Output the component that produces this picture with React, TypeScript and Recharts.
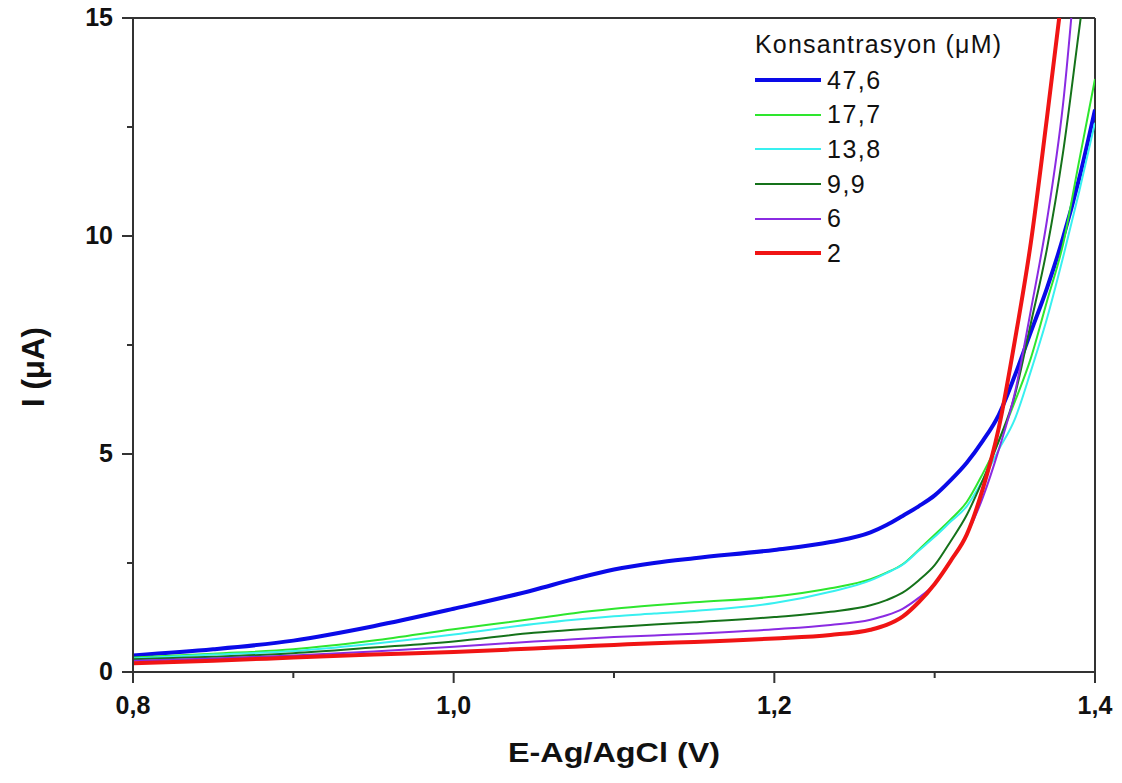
import React from "react";
import { LineChart, Line, XAxis, YAxis, ReferenceLine, Label } from "recharts";

// potential (V) sampling points
const potential = [
  0.8, 0.85, 0.9, 0.95, 1.0, 1.05, 1.075, 1.1, 1.125, 1.15, 1.2, 1.235, 1.26,
  1.27, 1.28, 1.29, 1.3, 1.31, 1.32, 1.33, 1.34, 1.35, 1.36, 1.37, 1.38, 1.39, 1.4,
];

// current (uA) for each concentration
const c47_6 = [0.38, 0.52, 0.72, 1.05, 1.45, 1.88, 2.13, 2.35, 2.5, 2.61, 2.8, 2.98, 3.2, 3.37, 3.58, 3.8, 4.05, 4.4, 4.8, 5.3, 5.9, 6.8, 7.8, 8.8, 9.95, 11.3, 12.9];
const c17_7 = [0.33, 0.42, 0.52, 0.72, 0.98, 1.22, 1.35, 1.45, 1.53, 1.6, 1.73, 1.92, 2.13, 2.28, 2.47, 2.8, 3.15, 3.5, 3.9, 4.55, 5.3, 6.2, 7.2, 8.5, 9.8, 11.7, 13.6];
const c13_8 = [0.31, 0.4, 0.48, 0.65, 0.86, 1.1, 1.2, 1.28, 1.34, 1.4, 1.58, 1.84, 2.1, 2.27, 2.46, 2.78, 3.1, 3.45, 3.8, 4.4, 5.1, 5.8, 6.9, 8.1, 9.5, 11.0, 12.6];
const c9_9 = [0.29, 0.35, 0.43, 0.56, 0.7, 0.9, 0.97, 1.03, 1.09, 1.14, 1.26, 1.38, 1.53, 1.65, 1.82, 2.1, 2.45, 3.0, 3.6, 4.4, 5.3, 6.35, 8.0, 9.7, 11.9, 14.7, 17.5];
const c6 = [0.26, 0.31, 0.38, 0.47, 0.58, 0.7, 0.75, 0.8, 0.84, 0.88, 0.98, 1.08, 1.2, 1.3, 1.45, 1.7, 2.02, 2.55, 3.15, 4.0, 5.1, 6.4, 8.3, 10.35, 13.0, 17, 21];
const c2 = [0.2, 0.26, 0.33, 0.4, 0.46, 0.54, 0.58, 0.62, 0.66, 0.69, 0.77, 0.85, 0.97, 1.08, 1.27, 1.6, 2.02, 2.55, 3.15, 4.2, 5.6, 7.6, 9.85, 12.7, 15.7, 19, 23];

const xTicks = [0.8, 0.9, 1.0, 1.1, 1.2, 1.3, 1.4];
const yTicks = [0, 2.5, 5, 7.5, 10, 12.5, 15];

const series = [
  { name: "47,6", values: c47_6, color: "#0a0ae8", width: 4 },
  { name: "17,7", values: c17_7, color: "#2ee62e", width: 2 },
  { name: "13,8", values: c13_8, color: "#38f0f0", width: 2 },
  { name: "9,9", values: c9_9, color: "#15721a", width: 2 },
  { name: "6", values: c6, color: "#8a2be2", width: 2 },
  { name: "2", values: c2, color: "#f01414", width: 4 },
];

const FONT = '"Liberation Sans", Arial, sans-serif';
const AXIS = "#333";

const toPoints = (vals: number[]) => potential.map((e, i) => ({ E: e, I: vals[i] }));

const XTick = (props: any) => {
  const { x, y, index, payload } = props;
  const major = index % 2 === 0;
  return (
    <g>
      <line x1={x} x2={x} y1={y} y2={y + (major ? 11 : 6)} stroke={AXIS} strokeWidth={2} />
      {major && (
        <text x={x} y={y + 42} textAnchor="middle" fontFamily={FONT} fontWeight="bold" fontSize={25} fill="#111">
          {payload.value.toFixed(1).replace(".", ",")}
        </text>
      )}
    </g>
  );
};

const YTick = (props: any) => {
  const { x, y, payload } = props;
  const major = payload.value % 5 === 0;
  return (
    <g>
      <line x1={x - (major ? 11 : 6)} x2={x} y1={y} y2={y} stroke={AXIS} strokeWidth={2} />
      {major && (
        <text x={x - 20} y={y + 8} textAnchor="end" fontFamily={FONT} fontWeight="bold" fontSize={25} fill="#111">
          {payload.value}
        </text>
      )}
    </g>
  );
};

const App = () => {
  return (
    <div style={{ position: "absolute", left: 0, top: 0, width: 1122, height: 783, background: "#fff" }}>
      <LineChart width={1122} height={783} margin={{ top: 18, right: 27, bottom: 0, left: 0 }}>
        <XAxis
          type="number"
          dataKey="E"
          domain={[0.8, 1.4]}
          ticks={xTicks}
          allowDataOverflow
          height={111}
          tickSize={0}
          tickMargin={0}
          tick={<XTick />}
          axisLine={{ stroke: AXIS, strokeWidth: 2 }}
        >
          <Label
            content={() => (
              <text
                x={614}
                y={762}
                textAnchor="middle"
                fontFamily={FONT}
                fontWeight="bold"
                fontSize={27}
                textLength={212}
                lengthAdjust="spacingAndGlyphs"
                fill="#111"
              >
                E-Ag/AgCl (V)
              </text>
            )}
          />
        </XAxis>
        <YAxis
          type="number"
          domain={[0, 15]}
          ticks={yTicks}
          allowDataOverflow
          width={133}
          tickSize={0}
          tickMargin={0}
          tick={<YTick />}
          axisLine={{ stroke: AXIS, strokeWidth: 2 }}
        >
          <Label
            content={() => (
              <text
                x={44}
                y={367}
                transform="rotate(-90 44 367)"
                textAnchor="middle"
                fontFamily={FONT}
                fontWeight="bold"
                fontSize={31}
                textLength={80}
                lengthAdjust="spacingAndGlyphs"
                fill="#111"
              >
                I (μA)
              </text>
            )}
          />
        </YAxis>
        <ReferenceLine y={15} stroke={AXIS} strokeWidth={2} />
        <ReferenceLine x={1.4} stroke={AXIS} strokeWidth={2} />
        {series.map((s) => (
          <Line
            key={s.name}
            data={toPoints(s.values)}
            dataKey="I"
            name={s.name}
            type="monotone"
            stroke={s.color}
            strokeWidth={s.width}
            dot={false}
            activeDot={false}
            isAnimationActive={false}
          />
        ))}
      </LineChart>

      {/* legend */}
      <div style={{ position: "absolute", left: 755, top: 29, fontFamily: FONT, color: "#111" }}>
        <div style={{ fontSize: 25, lineHeight: "30px", whiteSpace: "nowrap", letterSpacing: 1.2 }}>
          Konsantrasyon (μM)
        </div>
        <div style={{ marginTop: 4 }}>
          {series.map((s) => (
            <div key={s.name} style={{ display: "flex", alignItems: "center", height: 34.6 }}>
              <svg width={66} height={8}>
                <line x1={0} x2={66} y1={4} y2={4} stroke={s.color} strokeWidth={s.width} />
              </svg>
              <span style={{ fontSize: 25, marginLeft: 6, letterSpacing: 1.5 }}>{s.name}</span>
            </div>
          ))}
        </div>
      </div>
    </div>
  );
};

export default App;
